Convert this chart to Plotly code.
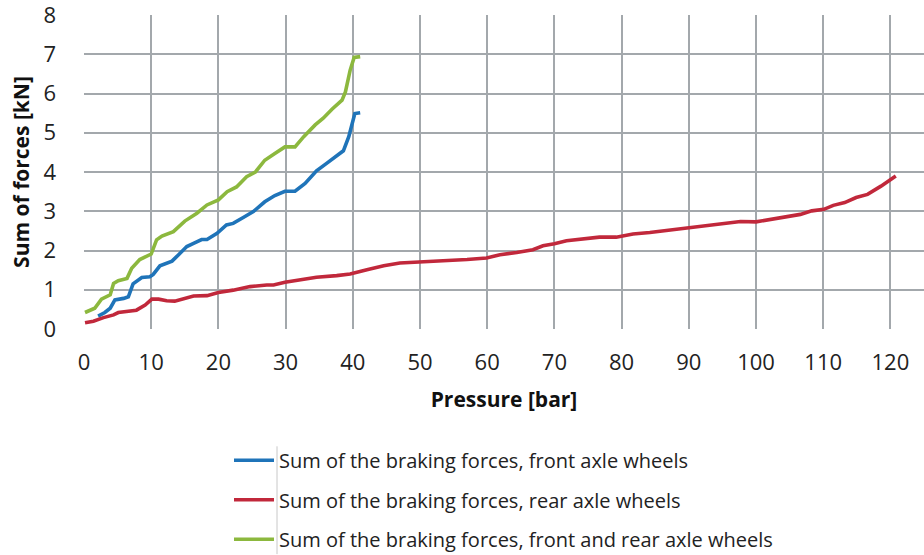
import plotly.graph_objects as go

# Front axle wheels (blue)
front_x = [2.1, 3.1, 3.9, 4.6, 5.9, 6.6, 7.3, 8.6, 9.8, 10.3, 11.3, 13.1, 14.0, 15.3, 16.3, 17.5,
           18.3, 19.8, 21.2, 22.2, 23.7, 25.2, 26.9, 28.4, 29.9, 31.4, 32.9, 34.6, 36.1, 37.4,
           38.6, 39.4, 40.3, 41.1]
front_y = [0.33, 0.42, 0.53, 0.74, 0.78, 0.82, 1.15, 1.31, 1.33, 1.39, 1.61, 1.73, 1.88, 2.10,
           2.18, 2.28, 2.28, 2.44, 2.65, 2.69, 2.84, 2.99, 3.24, 3.40, 3.51, 3.51, 3.71, 4.03,
           4.22, 4.39, 4.54, 4.90, 5.49, 5.51]

# Rear axle wheels (red)
rear_x = [0.15, 1.4, 2.9, 4.4, 5.1, 6.4, 7.8, 9.1, 10.1, 11.1, 12.3, 13.5, 14.8, 16.3, 18.3,
          20.0, 22.2, 24.7, 27.2, 28.2, 29.9, 32.2, 34.6, 37.6, 39.6, 42.1, 44.6, 47.0, 49.5,
          52.0, 54.5, 57.0, 59.9, 61.9, 64.4, 66.8, 68.3, 70.0, 71.8, 74.3, 76.7, 79.2, 81.7,
          84.2, 86.6, 89.1, 91.6, 94.2, 97.7, 100.0, 103.1, 106.6, 108.3, 110.1, 111.5,
          113.2, 114.9, 116.6, 118.6, 119.9, 120.8]
rear_y = [0.16, 0.20, 0.29, 0.36, 0.42, 0.46, 0.48, 0.61, 0.76, 0.76, 0.72, 0.71, 0.76, 0.84,
          0.85, 0.93, 0.99, 1.08, 1.12, 1.12, 1.19, 1.25, 1.32, 1.36, 1.40, 1.51, 1.61, 1.68,
          1.70, 1.74, 1.74, 1.77, 1.81, 1.89, 1.95, 2.02, 2.12, 2.17, 2.25, 2.29, 2.34, 2.34,
          2.42, 2.46, 2.51, 2.55, 2.60, 2.67, 2.74, 2.73, 2.81, 2.92, 3.01, 3.05, 3.15, 3.22,
          3.35, 3.43, 3.64, 3.81, 3.90]

# Front and rear axle wheels (green)
total_x = [0.15, 1.1, 1.6, 2.6, 3.9, 4.4, 5.1, 6.4, 7.1, 8.3, 9.7, 10.0, 10.8, 11.6, 13.3,
           15.0, 16.8, 18.3, 20.0, 21.3, 22.7, 24.2, 25.5, 26.9, 28.4, 29.9, 31.4, 32.7, 34.4,
           35.6, 36.9, 38.4, 38.9, 39.6, 40.2, 41.1]
total_y = [0.42, 0.48, 0.53, 0.76, 0.87, 1.16, 1.23, 1.29, 1.55, 1.77, 1.87, 1.91, 2.27, 2.37,
           2.48, 2.75, 2.95, 3.16, 3.29, 3.50, 3.62, 3.88, 4.00, 4.30, 4.47, 4.64, 4.64, 4.90,
           5.20, 5.37, 5.60, 5.83, 6.04, 6.59, 6.92, 6.94]

names = ["Sum of the braking forces, front axle wheels",
         "Sum of the braking forces, rear axle wheels",
         "Sum of the braking forces, front and rear axle wheels"]
colors = ["#1f74b9", "#c1283b", "#8cb83e"]

x_ticks = list(range(0, 121, 10))
y_ticks = list(range(0, 9))

FONT = "Open Sans"

fig = go.Figure()
for i, (xs, ys) in enumerate([(front_x, front_y), (rear_x, rear_y), (total_x, total_y)]):
    fig.add_trace(go.Scatter(x=xs, y=ys, mode="lines", name=names[i],
                             legendgroup=f"g{i}",
                             line=dict(color=colors[i], width=3.6)))

fig.update_layout(
    width=924, height=555,
    margin=dict(l=84, r=0, t=15, b=225.5, autoexpand=False),
    paper_bgcolor="white", plot_bgcolor="white",
    font=dict(family=FONT, color="#222222"),
    showlegend=True,
    legend=dict(x=(229 - 84) / 840, xanchor="left", y=-0.356, yanchor="top",
                font=dict(family=FONT, size=20, color="#222222"),
                tracegroupgap=10.5, itemwidth=40, bgcolor="rgba(0,0,0,0)"),
    xaxis=dict(range=[0, 125], tickvals=x_ticks, ticktext=[str(v) for v in x_ticks],
               showgrid=True, gridcolor="#a3a8ac", gridwidth=1.5,
               zeroline=False, showline=False, automargin=False,
               ticklabeloverflow="allow",
               tickfont=dict(family=FONT, size=22, color="#222222"),
               ticklabelstandoff=18,
               title=dict(text="<b>Pressure [bar]</b>", font=dict(family=FONT, size=21, color="#111111"),
                          standoff=17)),
    yaxis=dict(range=[0, 8], tickvals=y_ticks, ticktext=[str(v) for v in y_ticks],
               showgrid=True, gridcolor="#a3a8ac", gridwidth=1.5,
               zeroline=False, showline=False, automargin=False,
               ticklabeloverflow="allow",
               tickfont=dict(family=FONT, size=22, color="#222222"),
               ticklabelstandoff=27,
               title=dict(text="<b>Sum of forces [kN]</b>", font=dict(family=FONT, size=21, color="#111111"),
                          standoff=8)),
)

# thin separator line near legend as in reference
fig.add_shape(type="line", xref="paper", yref="paper",
              x0=(277 - 84) / 840, x1=(277 - 84) / 840,
              y0=(329.5 - 447) / 314.5, y1=(329.5 - 555) / 314.5,
              line=dict(color="#c8c8c8", width=1))

fig.write_html("out.html", config={"displayModeBar": False},
               post_script="document.body.style.margin='0';")
